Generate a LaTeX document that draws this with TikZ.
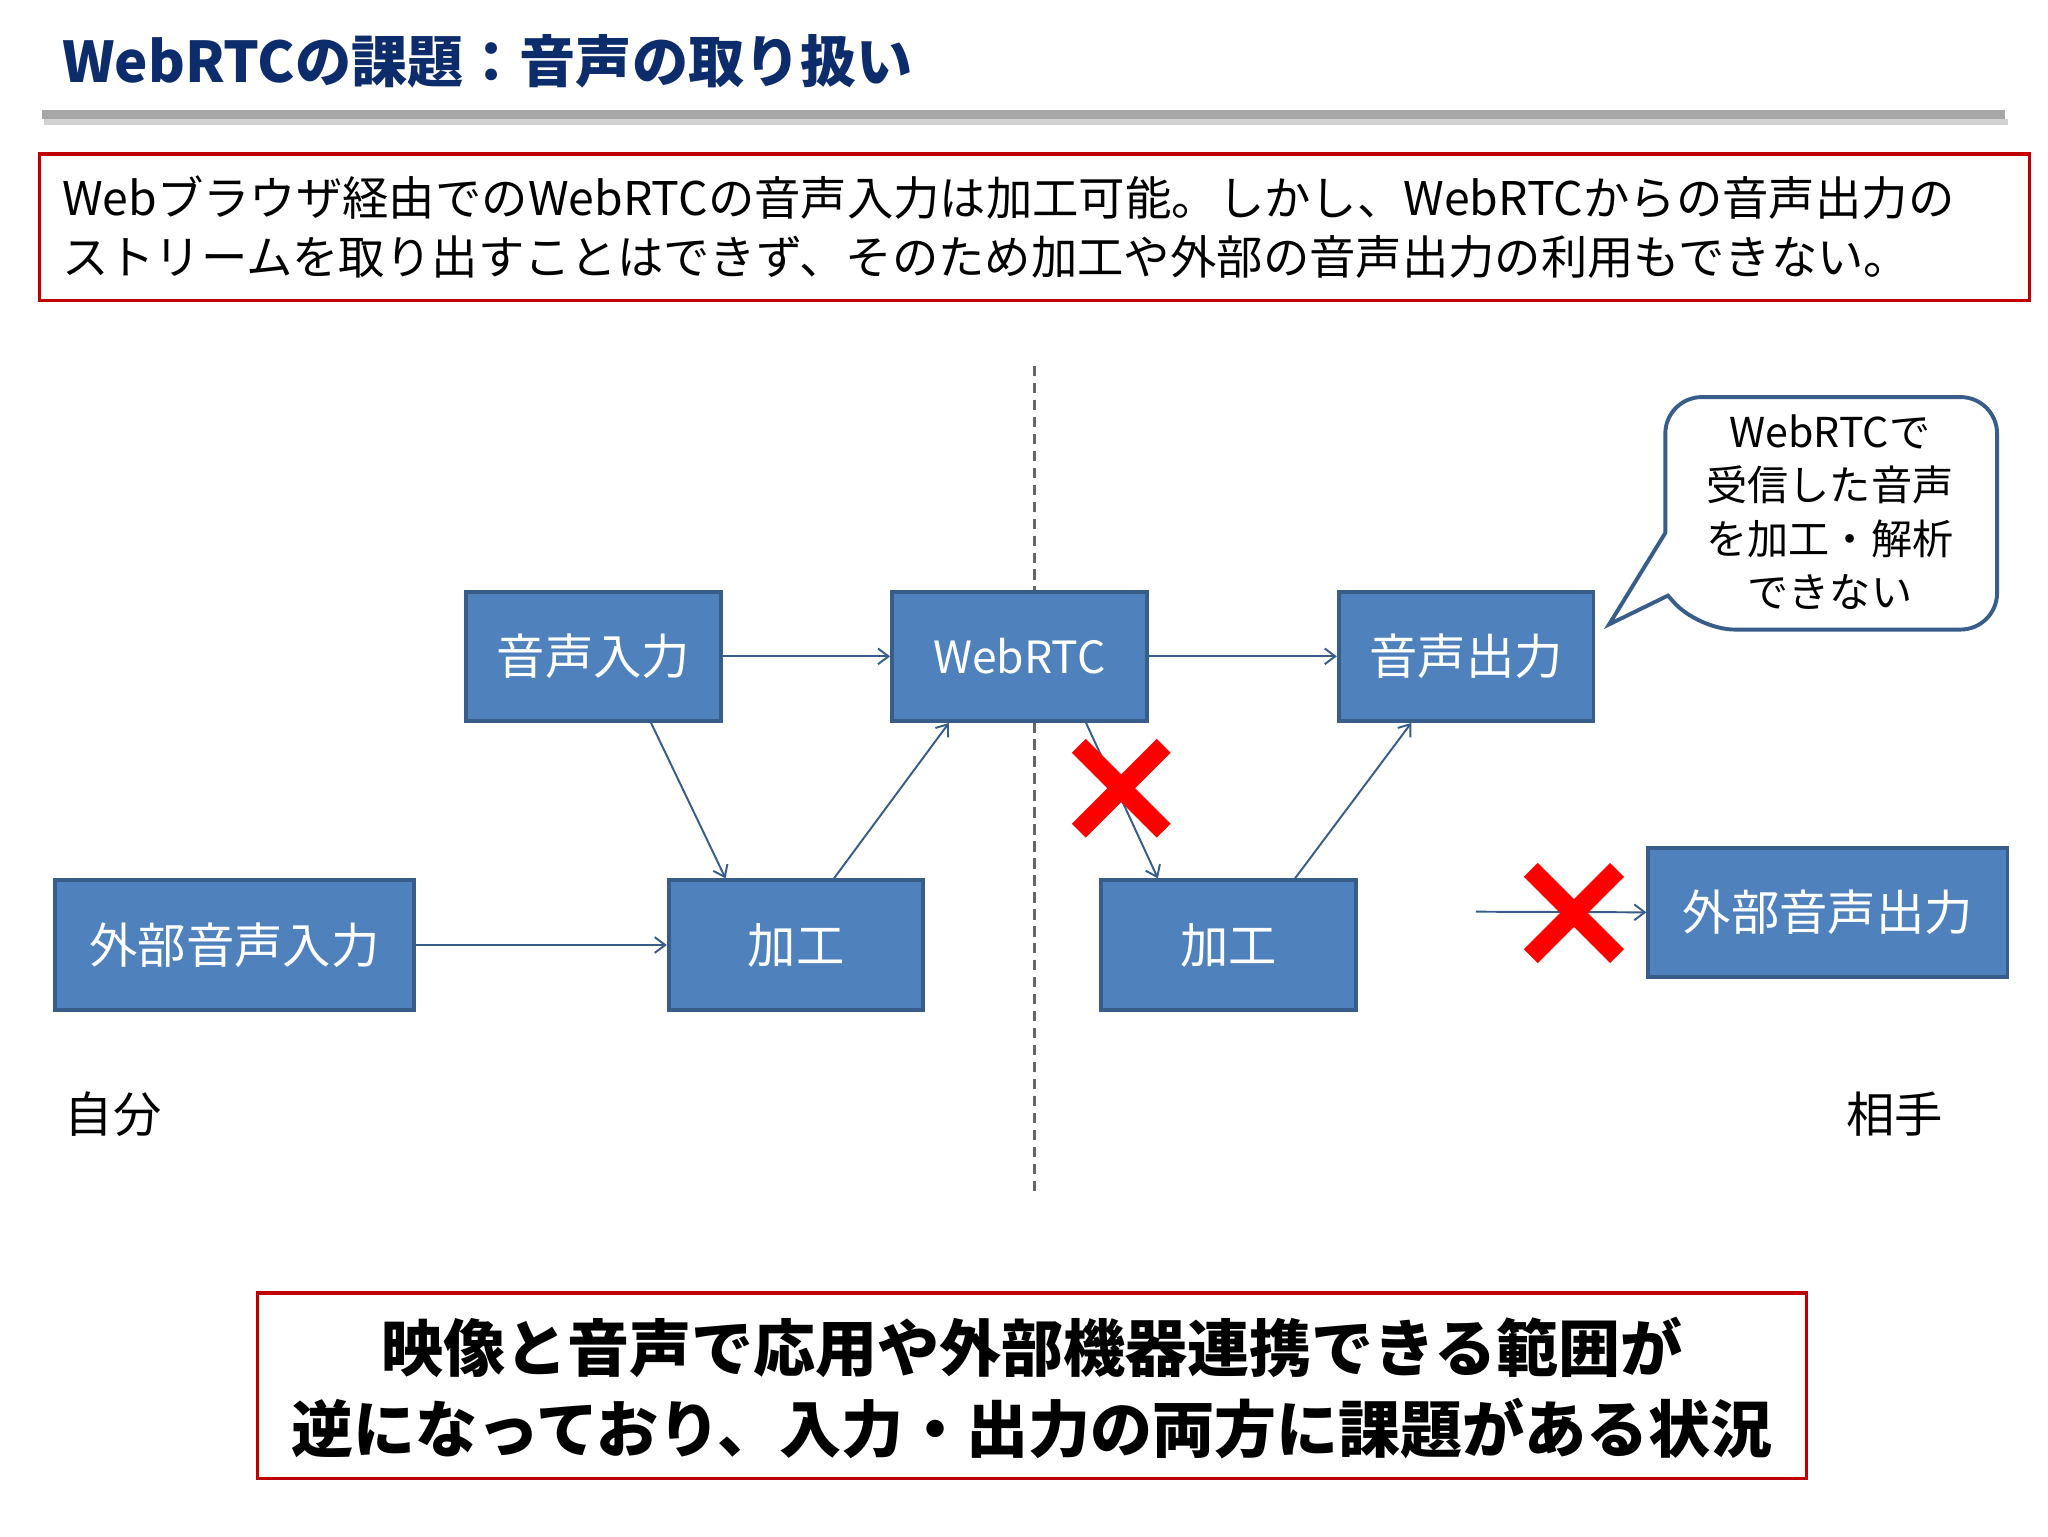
\documentclass[tikz,border=0pt]{standalone}
\usepackage{fontspec}
\setmainfont{Noto Sans CJK JP}
\usetikzlibrary{calc,arrows.meta}
\definecolor{boxfill}{HTML}{4F81BD}
\definecolor{boxline}{HTML}{385D8A}
\definecolor{titleblue}{HTML}{0D2C6C}
\definecolor{redline}{HTML}{C00000}
\begin{document}
\begin{tikzpicture}[x=1pt,y=1pt,
  blk/.style={draw=boxline,line width=3pt,fill=boxfill,text=white,inner sep=0pt,font=\fontsize{37}{42}\selectfont},
  conn/.style={draw=boxline,line width=1.5pt,-{Straight Barb[length=8pt,width=12pt]}},
  redx/.style={red,line width=15pt},
  redbox/.style={draw=redline,line width=2.5pt}]
\useasboundingbox (0,0) rectangle (1568,-1176);
\fill[white] (0,0) rectangle (1568,-1176);
% title
\node[anchor=west,text=titleblue,font=\fontsize{43}{48}\selectfont\bfseries] (title) at (44,-47) {WebRTCの課題：音声の取り扱い};
\fill[gray!35] (34,-91) rectangle (1537,-96);
\fill[gray!70] (32,-84) rectangle (1535,-91);
% top box
\draw[redbox] (30,-118) rectangle (1554,-230);
\node[anchor=west,font=\fontsize{35.5}{45}\selectfont,align=left] (desc) at (44,-174) {Webブラウザ経由でのWebRTCの音声入力は加工可能。しかし、WebRTCからの音声出力の\\ストリームを取り出すことはできず、そのため加工や外部の音声出力の利用もできない。};
% divider
\draw[gray!80!black,line width=2.5pt,dash pattern=on 8pt off 5pt] (792,-280) -- (792,-915);
% blocks
\node[blk,minimum width=195pt,minimum height=99pt] (ain) at (454.5,-502.5) {音声入力};
\node[blk,minimum width=195pt,minimum height=99pt,font=\fontsize{34}{40}\selectfont] (rtc) at (780.5,-502.5) {WebRTC};
\node[blk,minimum width=195pt,minimum height=99pt] (aout) at (1122.5,-502.5) {音声出力};
\node[blk,minimum width=275pt,minimum height=99pt] (ext) at (179.5,-723.5) {外部音声入力};
\node[blk,minimum width=195pt,minimum height=99pt] (procl) at (609.5,-723.5) {加工};
\node[blk,minimum width=195pt,minimum height=99pt] (procr) at (940.5,-723.5) {加工};
\node[blk,minimum width=275pt,minimum height=99pt] (extout) at (1399.5,-698.5) {外部音声出力};
% connectors
\draw[conn] (ain.east) -- (rtc.west);
\draw[conn] (rtc.east) -- (aout.west);
\draw[conn] ($(ain.south west)+(143,0)$) -- ($(procl.north west)+(45,0)$);
\draw[conn] ($(procl.north west)+(128,0)$) -- ($(rtc.south west)+(45,0)$);
\draw[conn] (ext.east) -- (procl.west);
\draw[conn] ($(rtc.south west)+(150,0)$) -- ($(procr.north west)+(45,0)$);
\draw[conn] ($(procr.north west)+(150,0)$) -- ($(aout.south west)+(57,0)$);
\coordinate (freeend) at (1130,-698);
\draw[conn] (freeend) -- (extout.west);
% red crosses
\draw[redx] (826,-571) -- (891,-636) (891,-571) -- (826,-636);
\draw[redx] (1172,-666) -- (1238,-732) (1238,-666) -- (1172,-732);
% callout
\draw[boxline,line width=3pt,fill=white,rounded corners=28pt] (1275,-408) -- (1275,-304) -- (1529,-304) -- (1529,-482) -- (1300,-482) [sharp corners] -- (1277,-456) -- (1232,-478) -- cycle;
\node[align=center,font=\fontsize{31.5}{41}\selectfont] (note) at (1401,-392) {WebRTCで\\受信した音声\\を加工・解析\\できない};
% labels
\node[anchor=west,font=\fontsize{37}{42}\selectfont] (me) at (46,-853) {自分};
\node[anchor=west,font=\fontsize{37}{42}\selectfont] (peer) at (1410,-853) {相手};
% bottom box
\draw[redbox] (197,-990) rectangle (1383,-1132);
\node[align=center,font=\fontsize{47.5}{62}\selectfont\bfseries] (concl) at (790,-1063) {映像と音声で応用や外部機器連携できる範囲が\\逆になっており、入力・出力の両方に課題がある状況};
\end{tikzpicture}
\end{document}
